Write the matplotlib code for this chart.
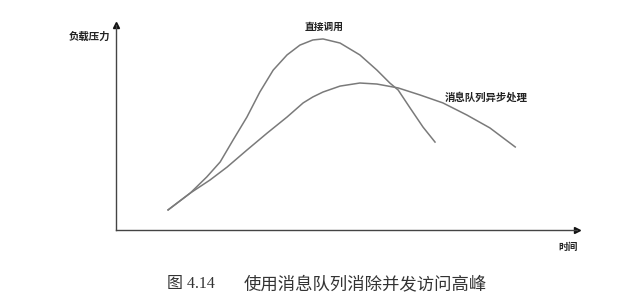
import matplotlib
matplotlib.use("Agg")
import matplotlib.pyplot as plt

# curve readings (time and load, both on a 0..100 scale of the drawn axes)
t_direct = [11.3, 16.1, 19.7, 22.6, 25.4, 28.4, 31.2, 34.1, 37.1, 39.9, 42.7, 44.9,
            48.6, 52.9, 56.6, 59.4, 61.2, 63.8, 66.6, 69.2]
load_direct = [9.8, 18.0, 25.9, 33.2, 43.9, 55.1, 67.3, 78.0, 85.4, 90.2, 92.7, 93.2,
               91.2, 85.4, 78.0, 71.7, 68.3, 59.5, 50.2, 42.9]

t_queue = [11.3, 16.1, 20.4, 24.1, 28.4, 32.8, 37.1, 40.6, 42.7, 44.9, 48.6, 52.9,
           56.6, 61.2, 65.9, 70.9, 76.1, 81.1, 86.6]
load_queue = [9.8, 18.0, 24.4, 30.7, 39.0, 47.3, 55.1, 62.0, 64.9, 67.3, 70.2, 71.7,
              71.2, 69.3, 65.9, 62.0, 56.1, 49.8, 40.5]

label_direct = "直接调用"
label_queue = "消息队列异步处理"
ylabel = "负载压力"
xlabel = "时间"
fig_no = "图 4.14"
caption = "使用消息队列消除并发访问高峰"

cjk = ["Noto Sans CJK SC", "DejaVu Sans"]
W, H = 640, 299

fig = plt.figure(figsize=(6.4, 2.99), dpi=100)
ax = fig.add_axes([116 / W, 1 - 230 / H, 461 / W, 205 / H])
ax.set_xlim(0, 100)
ax.set_ylim(0, 100)

ax.plot(t_direct, load_direct, color="#7a7a7a", lw=1.1, solid_joinstyle="round")
ax.plot(t_queue, load_queue, color="#7a7a7a", lw=1.1, solid_joinstyle="round")

for s in ["top", "right"]:
    ax.spines[s].set_visible(False)
for s in ["left", "bottom"]:
    ax.spines[s].set_color("#444444")
    ax.spines[s].set_linewidth(1.0)
ax.set_xticks([])
ax.set_yticks([])
# arrow heads
ax.plot(1, 0, ">", color="#111111", ms=4.5, transform=ax.transAxes, clip_on=False)
ax.plot(0, 1, "^", color="#111111", ms=4.5, transform=ax.transAxes, clip_on=False)

def px_text(x, y, s, ha="center", **kw):
    fig.text(x / W, 1 - y / H, s, ha=ha, va="center", **kw)

px_text(89, 37, ylabel, family=cjk, fontsize=7.5, weight="bold", color="#222222")
px_text(324, 27, label_direct, family=cjk, fontsize=7, weight="bold", color="#222222")
px_text(486, 97, label_queue, family=cjk, fontsize=7.5, weight="bold", color="#222222")
px_text(568, 247, xlabel, family=cjk, fontsize=7, weight="bold", color="#222222")
px_text(167, 284, fig_no, ha="left", family=["Liberation Serif", "Noto Sans CJK SC"],
        fontsize=11.5, color="#333333")
px_text(365, 284, caption, family=["Noto Sans CJK SC"], fontsize=12.5, color="#333333")

fig.savefig("out.png", dpi=100)
